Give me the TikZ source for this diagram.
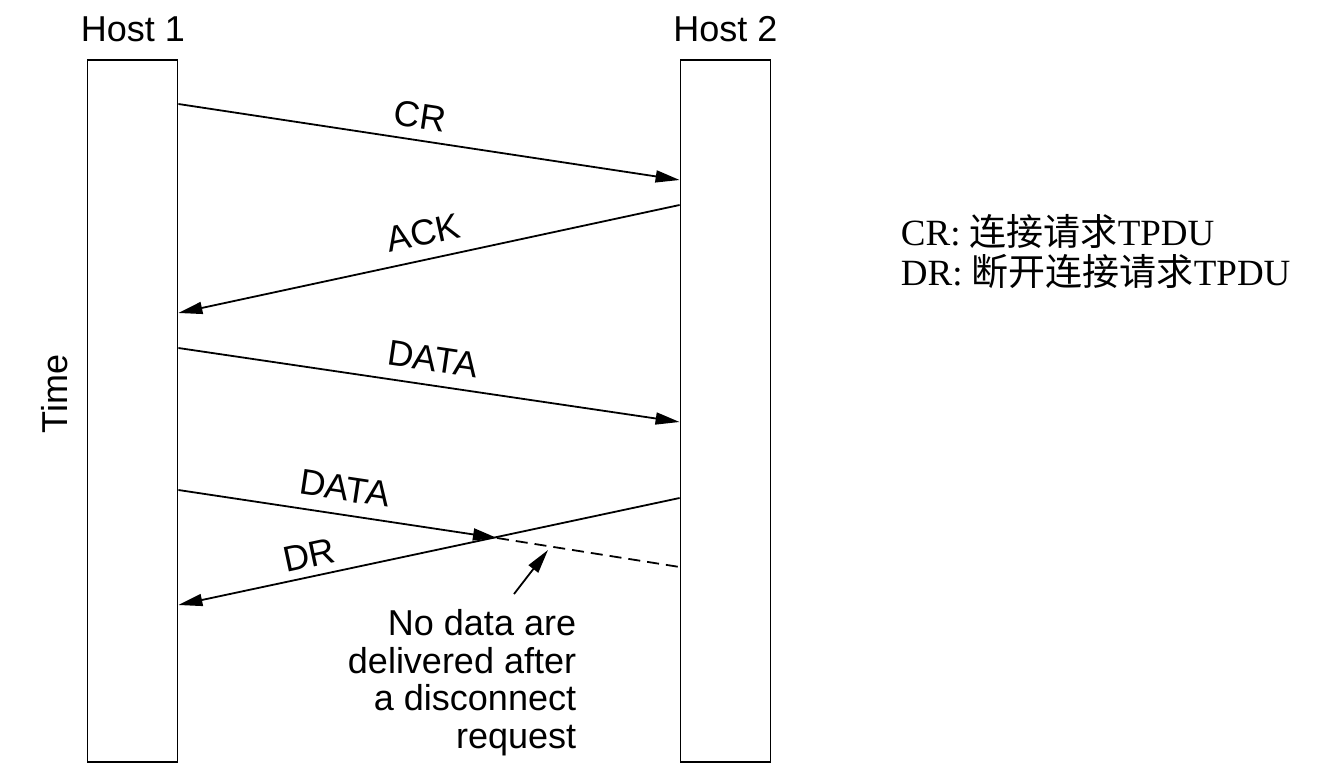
\documentclass[tikz,border=0pt]{standalone}
\usepackage{fontspec}
\setmainfont{Liberation Serif}
\setsansfont{Liberation Sans}
\newfontfamily\cjk{Noto Sans CJK SC}
\usetikzlibrary{arrows.meta,positioning,calc}
\tikzset{
  >={Triangle[length=24pt,width=12pt]},
  every picture/.append style={line width=1.8pt},
}
\tikzset{
  bar/.style={draw, minimum width=90pt, minimum height=702pt, inner sep=0pt},
  msg/.style={->},
  lbl/.style={font=\fontsize{36}{37.5}\selectfont\sffamily, inner sep=0pt},
  legend/.style={font=\fontsize{37}{40}\selectfont\rmfamily, inner sep=0pt, anchor=base west}
}

\begin{document}
\begin{tikzpicture}[x=1pt, y=-1pt]
\useasboundingbox (0,0) rectangle (1324,778);

% the two hosts
\node[bar] (host1) at (132.5,411) {};
\node[bar] (host2) at (725.5,411) {};
\node[lbl, anchor=base] (host1-lbl) at (133,42) {Host 1};
\node[lbl, anchor=base] (host2-lbl) at (725.5,42) {Host 2};
\node[lbl, rotate=90] (time) at (55,394) {Time};

% end points of the messages
\coordinate (cr-s) at (host1.east |- 0,104);
\coordinate (cr-e) at (host2.west |- 0,180);
\coordinate (ack-s) at (host2.west |- 0,205);
\coordinate (ack-e) at (host1.east |- 0,313);
\coordinate (data1-s) at (host1.east |- 0,348);
\coordinate (data1-e) at (host2.west |- 0,422);
\coordinate (data2-s) at (host1.east |- 0,490);
\coordinate (data2-e) at (497,538);
\coordinate (lost-e) at (host2.west |- 0,567);
\coordinate (dr-s) at (host2.west |- 0,498);
\coordinate (dr-e) at (host1.east |- 0,605);

\draw[msg] (cr-s) -- node[lbl, pos=.475, sloped, above=10.5pt]{CR} (cr-e);
\draw[msg] (ack-s) -- node[lbl, pos=.5, sloped, above=13pt]{ACK} (ack-e);
\draw[msg] (data1-s) -- node[lbl, pos=.5, sloped, above=13pt]{DATA} (data1-e);
\draw[msg] (data2-s) -- node[lbl, pos=.51, sloped, above=13pt]{DATA} (data2-e);
\draw[dashed, dash pattern=on 12pt off 7pt] (data2-e) -- (lost-e);
\draw[msg] (dr-s) -- node[lbl, pos=.73, sloped, above=8pt]{DR} (dr-e);

% callout
\node[lbl, align=right, anchor=north east] (note) at (577,609)
  {No data are\\delivered after\\a disconnect\\request};
\coordinate (note-tail) at (514,594);
\coordinate (lost) at (548,550);
\draw[msg] (note-tail) -- (lost);

% legend
\node[legend] (legend-cr) at (900,245) {CR: {\cjk 连接请求}TPDU};
\node[legend] (legend-dr) at (900,285) {DR: {\cjk 断开连接请求}TPDU};
\end{tikzpicture}
\end{document}
